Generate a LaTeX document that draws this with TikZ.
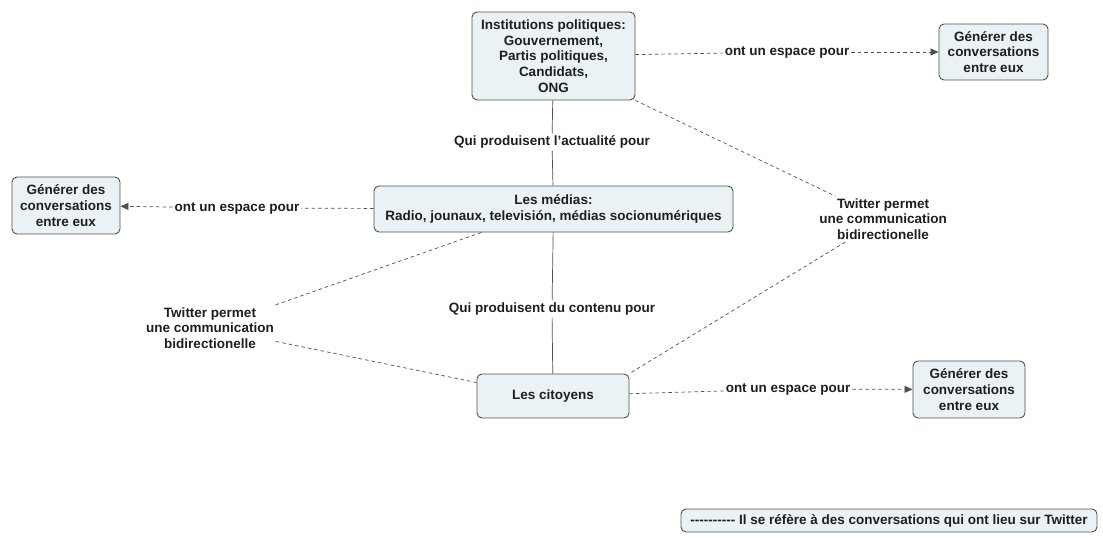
\documentclass[tikz,border=0pt]{standalone}
\usepackage{fontspec}
\setmainfont{Liberation Sans}
\usetikzlibrary{arrows.meta}
\definecolor{boxfill}{HTML}{EBF2F5}
\definecolor{boxline}{HTML}{505050}
\definecolor{txt}{HTML}{1E1E1E}
\begin{document}
\begin{tikzpicture}[x=1pt,y=-1pt,
  box/.style={draw=boxline,fill=boxfill,line width=0.9pt,rounded corners=5pt,
    align=center,text=txt,font=\bfseries\fontsize{13.5}{15.8}\selectfont,inner sep=0pt},
  lab/.style={align=center,text=txt,font=\bfseries\fontsize{13.5}{15.8}\selectfont,inner sep=2pt},
  link/.style={draw=boxline,line width=0.7pt},
  twit/.style={draw=boxline,line width=0.7pt,dash pattern=on 3.5pt off 3pt},
  tip/.style={-{Triangle[length=8pt,width=7pt]}}]

\useasboundingbox (0,0) rectangle (1103,538);

\node[box,minimum width=163,minimum height=88] (inst) at (553.5,56)
  {Institutions politiques:\\Gouvernement,\\Partis politiques,\\Candidats,\\ONG};
\node[box,minimum width=359,minimum height=46] (medias) at (553.5,209)
  {Les médias:\\Radio, jounaux, televisión, médias socionumériques};
\node[box,minimum width=152,minimum height=44] (cit) at (553,396) {Les citoyens};

\node[box,minimum width=109,minimum height=56] (genA) at (993.5,52)
  {Générer des\\conversations\\entre eux};
\node[box,minimum width=108,minimum height=57] (genB) at (66,205.5)
  {Générer des\\conversations\\entre eux};
\node[box,minimum width=112,minimum height=57] (genC) at (969,389.5)
  {Générer des\\conversations\\entre eux};

\node[box,minimum width=416,minimum height=23] (legend) at (889,520.5)
  {{-}{-}{-}{-}{-}{-}{-}{-}{-}{-} Il se réfère à des conversations qui ont lieu sur Twitter};

\node[lab] (qActu) at (552,142) {Qui produisent l'actualité pour};
\node[lab] (qCont) at (552,309) {Qui produisent du contenu pour};
\node[lab] (espA) at (787,52) {ont un espace pour};
\node[lab] (espB) at (237,208) {ont un espace pour};
\node[lab] (espC) at (788,389) {ont un espace pour};
\node[lab] (twA) at (883,219) {Twitter permet\\une communication\\bidirectionelle};
\node[lab] (twB) at (210,328) {Twitter permet\\une communication\\bidirectionelle};

\draw[link] (inst) -- (qActu);
\draw[link] (qActu) -- (medias);
\draw[link] (medias) -- (qCont);
\draw[link] (qCont) -- (cit);

\draw[twit] (inst) -- (espA);
\draw[twit,tip] (espA) -- (genA);
\draw[twit] (medias) -- (espB);
\draw[twit,tip] (espB) -- (genB);
\draw[twit] (cit) -- (espC);
\draw[twit,tip] (espC) -- (genC);

\draw[twit] (inst.south east) -- (twA);
\draw[twit] (twA) -- (cit.north east);
\draw[twit] (medias.198) -- (twB);
\draw[twit] (twB) -- (cit.170);

\end{tikzpicture}
\end{document}
